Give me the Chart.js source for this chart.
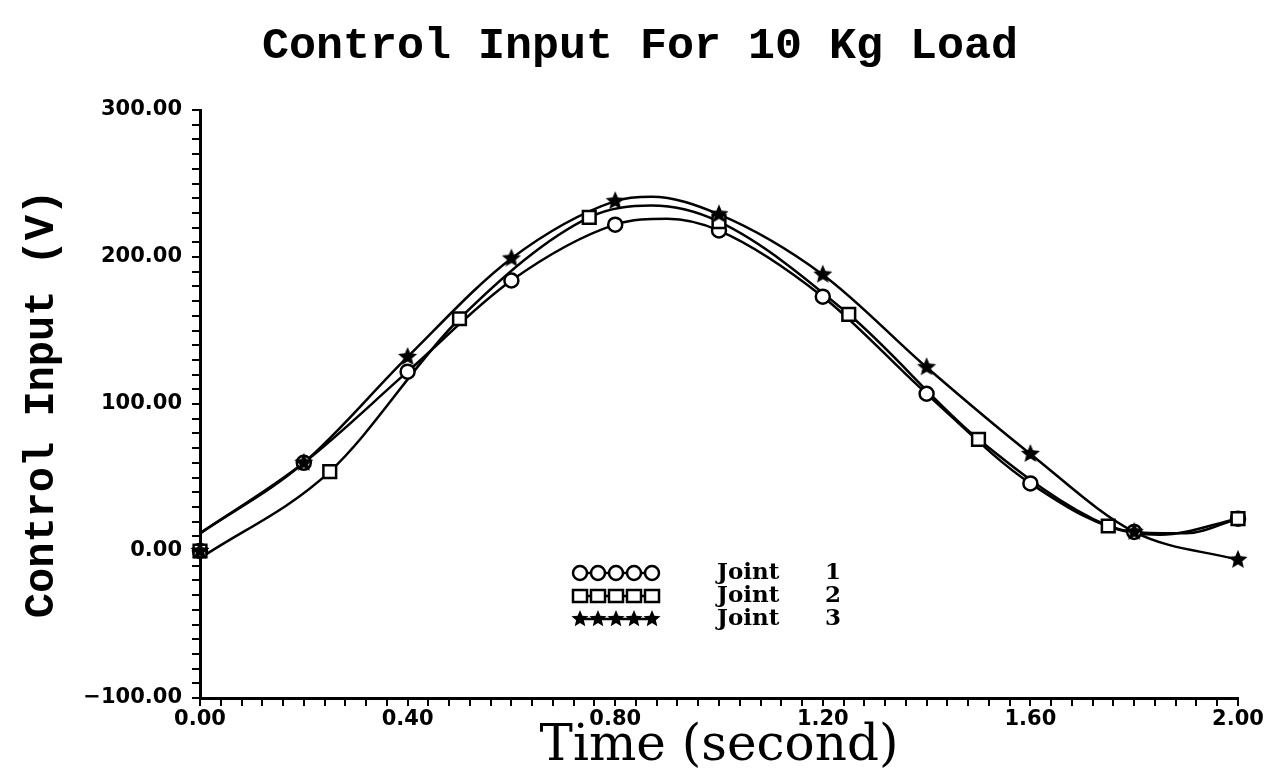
<!DOCTYPE html>
<html>
<head>
<meta charset="utf-8">
<script src="https://cdn.jsdelivr.net/npm/chart.js@4.4.0/dist/chart.umd.min.js"></script>
<style>
  html, body { margin: 0; padding: 0; background: #fff; }
</style>
</head>
<body>
<canvas id="controlChart" width="1267" height="775"></canvas>
<script>
// Curves (time in s, control input in V)
const joint1LineX = [0, 0.2, 0.4, 0.6, 0.8, 0.9, 1.0, 1.2, 1.4, 1.6, 1.8, 1.9, 2.0];
const joint1LineY = [12, 60, 122, 184, 222, 226, 218, 173, 107, 46, 13, 12, 22];
const joint2LineX = [0, 0.25, 0.5, 0.75, 0.87, 1.0, 1.25, 1.5, 1.75, 1.85, 2.0];
const joint2LineY = [-5, 54, 158, 227, 235, 224, 161, 76, 17, 11, 22];
const joint3LineX = [0, 0.2, 0.4, 0.6, 0.8, 0.87, 1.0, 1.2, 1.4, 1.6, 1.8, 2.0];
const joint3LineY = [12, 60, 132, 199, 238, 241, 229, 188, 125, 66, 13, -6];

// Marker positions
const joint1MarkX = [0, 0.2, 0.4, 0.6, 0.8, 1.0, 1.2, 1.4, 1.6, 1.8, 2.0];
const joint1MarkY = [0, 60, 122, 184, 222, 218, 173, 107, 46, 13, 22];
const joint2MarkX = [0, 0.25, 0.5, 0.75, 1.0, 1.25, 1.5, 1.75, 2.0];
const joint2MarkY = [0, 54, 158, 227, 224, 161, 76, 17, 22];
const joint3MarkX = [0, 0.2, 0.4, 0.6, 0.8, 1.0, 1.2, 1.4, 1.6, 1.8, 2.0];
const joint3MarkY = [0, 60, 132, 199, 238, 229, 188, 125, 66, 13, -6];

const legendNames = ['Joint', 'Joint', 'Joint'];
const legendNums = ['1', '2', '3'];

function pairs(xs, ys) {
    return xs.map((x, i) => ({ x: x, y: ys[i] }));
}

// filled five point star used as a point style
function makeStar(r) {
    const c = document.createElement('canvas');
    c.width = c.height = Math.ceil(r * 2 + 2);
    const g = c.getContext('2d');
    g.translate(c.width / 2, c.height / 2);
    g.beginPath();
    for (let i = 0; i < 10; i++) {
        const rad = i % 2 ? r * 0.45 : r;
        const a = -Math.PI / 2 + i * Math.PI / 5;
        g.lineTo(rad * Math.cos(a), rad * Math.sin(a));
    }
    g.closePath();
    g.fillStyle = '#000';
    g.fill();
    return c;
}
const starImg = makeStar(10);
const starSmall = makeStar(9);

// order: higher numbers are drawn first, so lines go under the markers
function lineSet(data) {
    return {
        data: data,
        order: 10,
        borderColor: '#000',
        borderWidth: 2.5,
        pointRadius: 0,
        cubicInterpolationMode: 'monotone',
        fill: false
    };
}
function markSet(data, style, radius, order) {
    return {
        data: data,
        order: order,
        showLine: false,
        clip: false,
        pointStyle: style,
        pointRadius: radius,
        pointBorderWidth: 2.5,
        pointBorderColor: '#000',
        pointBackgroundColor: '#fff'
    };
}

// hand drawn legend, like the original plot
const jointLegend = {
    id: 'jointLegend',
    afterDatasetsDraw(chart) {
        const ctx = chart.ctx;
        ctx.save();
        for (let i = 0; i < 3; i++) {
            const y = 573 + i * 23;
            ctx.strokeStyle = '#000';
            ctx.lineWidth = 2.5;
            ctx.beginPath();
            ctx.moveTo(578, y);
            ctx.lineTo(652, y);
            ctx.stroke();
            for (let k = 0; k < 5; k++) {
                const x = 580 + k * 18;
                ctx.fillStyle = '#fff';
                ctx.beginPath();
                if (i === 0) {
                    ctx.arc(x, y, 7, 0, Math.PI * 2);
                    ctx.fill();
                    ctx.stroke();
                } else if (i === 1) {
                    ctx.rect(x - 7, y - 6, 14, 12);
                    ctx.fill();
                    ctx.stroke();
                } else {
                    ctx.drawImage(starSmall, x - starSmall.width / 2, y - starSmall.height / 2);
                }
            }
            ctx.fillStyle = '#000';
            ctx.font = 'bold 23px "DejaVu Serif"';
            ctx.textBaseline = 'middle';
            ctx.textAlign = 'left';
            ctx.fillText(legendNames[i], 717, y);
            ctx.textAlign = 'center';
            ctx.fillText(legendNums[i], 833, y);
        }
        ctx.restore();
    }
};

const tickFont = { family: '"DejaVu Sans"', size: 21, weight: 'bold' };

new Chart(document.getElementById('controlChart'), {
    type: 'line',
    data: {
        datasets: [
            lineSet(pairs(joint1LineX, joint1LineY)),
            lineSet(pairs(joint2LineX, joint2LineY)),
            lineSet(pairs(joint3LineX, joint3LineY)),
            markSet(pairs(joint1MarkX, joint1MarkY), 'circle', 7, 3),
            markSet(pairs(joint2MarkX, joint2MarkY), 'rect', 9, 2),
            markSet(pairs(joint3MarkX, joint3MarkY), starImg, 10, 1)
        ]
    },
    options: {
        responsive: false,
        animation: false,
        layout: { padding: { left: 42, right: 29, top: 0, bottom: 0 } },
        plugins: {
            legend: { display: false },
            tooltip: { enabled: false },
            title: {
                display: true,
                text: 'Control Input For 10 Kg Load',
                color: '#000',
                font: { family: '"Liberation Mono"', size: 45, weight: 'bold', lineHeight: 1.2 },
                padding: { top: 20, bottom: 36 }
            }
        },
        scales: {
            x: {
                type: 'linear',
                min: 0,
                max: 2,
                afterFit(scale) { scale.height = 77; },
                border: { display: true, color: '#000', width: 3 },
                grid: { drawOnChartArea: false, drawTicks: true, tickLength: 8, color: '#000', lineWidth: 2 },
                ticks: {
                    stepSize: 0.04,
                    autoSkip: false,
                    maxRotation: 0,
                    padding: 1,
                    color: '#000',
                    font: tickFont,
                    callback: v => Math.abs(v / 0.4 - Math.round(v / 0.4)) < 1e-6 ? v.toFixed(2) : ''
                },
                title: {
                    display: true,
                    text: 'Time (second)',
                    color: '#000',
                    font: { family: '"DejaVu Serif"', size: 50, lineHeight: 1.1 },
                    padding: 0
                }
            },
            y: {
                min: -100,
                max: 300,
                afterFit(scale) { scale.width = 158; },
                border: { display: true, color: '#000', width: 3 },
                grid: { drawOnChartArea: false, drawTicks: true, tickLength: 8, color: '#000', lineWidth: 2 },
                ticks: {
                    stepSize: 10,
                    autoSkip: false,
                    padding: 10,
                    color: '#000',
                    font: tickFont,
                    callback: v => v % 100 === 0 ? v.toFixed(2).replace('-', '\u2212') : ''
                },
                title: {
                    display: true,
                    text: 'Control Input (V)',
                    color: '#000',
                    font: { family: '"Liberation Mono"', size: 42, weight: 'bold', lineHeight: 1.2 },
                    padding: { top: -25 }
                }
            }
        }
    },
    plugins: [jointLegend]
});
</script>
</body>
</html>
